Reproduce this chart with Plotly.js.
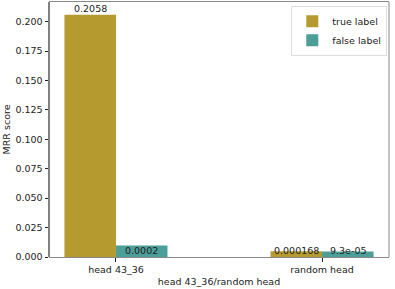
<!DOCTYPE html>
<html>
<head>
<meta charset="utf-8">
<script src="https://cdn.plot.ly/plotly-3.0.1.min.js"></script>
<style>html,body{margin:0;padding:0;background:#fff;}#chart{width:395px;height:289px;}</style>
</head>
<body>
<div id="chart"></div>
<script>
var categories = ["head 43_36", "random head"];
var seriesNames = ["true label", "false label"];
var trueValues = [0.2058, 0.0048];
var falseValues = [0.0098, 0.0046];
var trueLabels = ["0.2058", "0.000168"];
var falseLabels = ["0.0002", "9.3e-05"];
var trueLabelY = [0.2058, 0.000168];
var falseLabelY = [0.0002, 0.000093];

var font = {family: "DejaVu Sans", size: 9.5, color: "#222"};
var colors = ["#b59a30", "#4c9f98"];

var traces = [
  {type: "bar", name: seriesNames[0], x: categories, y: trueValues,
   marker: {color: colors[0], line: {width: 0}}},
  {type: "bar", name: seriesNames[1], x: categories, y: falseValues,
   marker: {color: colors[1], line: {width: 0}}}
];

var annotations = [];
categories.forEach(function (c, i) {
  annotations.push({x: i - 0.125, y: trueLabelY[i], xref: "x", yref: "y", text: trueLabels[i],
    showarrow: false, yanchor: "bottom", xanchor: "center", font: font, yshift: -1});
  annotations.push({x: i + 0.125, y: falseLabelY[i], xref: "x", yref: "y", text: falseLabels[i],
    showarrow: false, yanchor: "bottom", xanchor: "center", font: font, yshift: -1});
});

var layout = {
  width: 395, height: 289,
  margin: {l: 49, r: 6, t: 2, b: 31.5},
  paper_bgcolor: "#fff", plot_bgcolor: "#fff",
  font: font,
  barmode: "group", bargap: 0.5, bargroupgap: 0,
  showlegend: true,
  legend: {x: 0.995, xanchor: "right", y: 0.985, yanchor: "top", tracegroupgap: 0,
    bordercolor: "#ddd", borderwidth: 1, bgcolor: "#fff", font: font},
  xaxis: {type: "category", range: [-0.325, 1.325], showgrid: false, zeroline: false,
    showline: true, linecolor: "#888", linewidth: 1, mirror: true,
    ticks: "outside", ticklen: 3.5, tickcolor: "#222",
    title: {text: "head 43_36/random head", font: font, standoff: 4}, tickfont: font},
  yaxis: {range: [0, 0.2167], showgrid: false, zeroline: false,
    showline: false, dtick: 0.025, tickformat: ".3f",
    ticks: "outside", ticklen: 3.5, tickcolor: "#222",
    title: {text: "MRR score", font: font, standoff: 3}, tickfont: font},
  shapes: [
    {type: "line", xref: "paper", yref: "paper", x0: 0, x1: 0, y0: 0, y1: 1,
     line: {color: "#000", width: 1}},
    {type: "line", xref: "paper", yref: "paper", x0: 1, x1: 1, y0: 0, y1: 1,
     line: {color: "#888", width: 1}}
  ],
  annotations: annotations
};

Plotly.newPlot("chart", traces, layout, {displayModeBar: false, staticPlot: true});
</script>
</body>
</html>
